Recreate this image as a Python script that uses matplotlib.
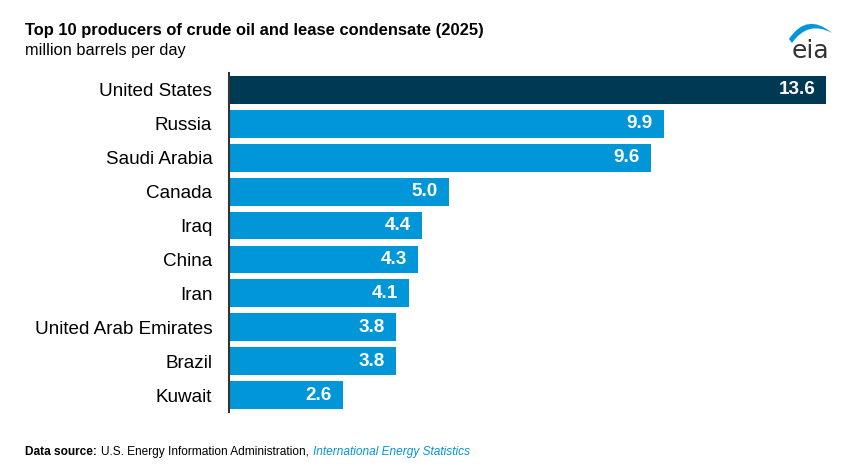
import matplotlib
matplotlib.use("Agg")
import matplotlib.pyplot as plt
from matplotlib.path import Path
from matplotlib.patches import PathPatch

countries = ["United States", "Russia", "Saudi Arabia", "Canada", "Iraq", "China",
             "Iran", "United Arab Emirates", "Brazil", "Kuwait"]
production = [13.6, 9.9, 9.6, 5.0, 4.4, 4.3, 4.1, 3.8, 3.8, 2.6]
value_labels = ["13.6", "9.9", "9.6", "5.0", "4.4", "4.3", "4.1", "3.8", "3.8", "2.6"]

dark_blue = "#003953"
light_blue = "#0096d7"

W, H = 855, 476

plt.rcParams["font.family"] = ["Liberation Sans", "DejaVu Sans"]

fig = plt.figure(figsize=(W / 100, H / 100), dpi=100)
ax = fig.add_axes([229 / W, 1 - 412 / H, 615 / W, 339 / H])

colors = [dark_blue] + [light_blue] * (len(countries) - 1)
ypos = range(len(countries))
ax.barh(ypos, production, height=0.82, color=colors)
ax.set_ylim(len(countries) - 0.5, -0.5)
ax.set_xlim(0, 14)

for y, v, lab in zip(ypos, production, value_labels):
    ax.annotate(lab, (v, y), xytext=(-8, 0), textcoords="offset points",
                ha="right", va="center", color="white", fontsize=13.6, fontweight="bold")

ax.set_yticks(list(ypos))
ax.set_yticklabels(countries, fontsize=13.6, color="#000000")
ax.tick_params(axis="y", length=0, pad=12)
ax.set_xticks([])
for side in ["top", "right", "bottom"]:
    ax.spines[side].set_visible(False)
ax.spines["left"].set_color("#333333")
ax.spines["left"].set_linewidth(1.5)

fig.text(25 / W, 1 - 30 / H, "Top 10 producers of crude oil and lease condensate (2025)",
         fontsize=11.9, fontweight="bold", va="center", ha="left")
fig.text(25 / W, 1 - 50 / H, "million barrels per day",
         fontsize=11.8, va="center", ha="left")

# eia logo
fig.text(810 / W, 1 - 51 / H, "eia", fontsize=18, color="#333333",
         family="DejaVu Sans", ha="center", va="center")
swoosh = [(789, 39), (807, 12), (832, 33), (808, 20), (792, 43), (789, 39)]
swoosh = [(x / W, 1 - y / H) for x, y in swoosh]
codes = [Path.MOVETO, Path.CURVE3, Path.CURVE3, Path.CURVE3, Path.CURVE3, Path.CLOSEPOLY]
fig.add_artist(PathPatch(Path(swoosh, codes), transform=fig.transFigure,
                         facecolor=light_blue, edgecolor="none"))

# footer
t1 = fig.text(25 / W, 1 - 452 / H, "Data source:", fontsize=8.6, fontweight="bold",
              va="center", ha="left")
fig.canvas.draw()
bb = t1.get_window_extent()
t2 = fig.text((bb.x1 + 4) / W, 1 - 452 / H,
              "U.S. Energy Information Administration,", fontsize=8.6,
              va="center", ha="left")
fig.canvas.draw()
bb2 = t2.get_window_extent()
fig.text((bb2.x1 + 4) / W, 1 - 452 / H, "International Energy Statistics",
         fontsize=8.6, style="italic", color=light_blue, va="center", ha="left")

fig.savefig("out.png", dpi=100)
